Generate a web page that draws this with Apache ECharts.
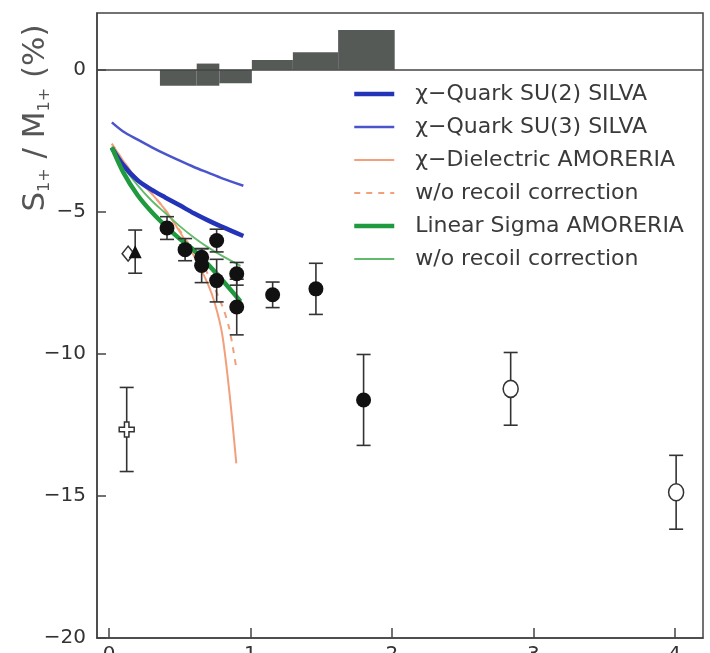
<!DOCTYPE html>
<html>
<head>
<meta charset="utf-8">
<script src="https://cdn.jsdelivr.net/npm/echarts@6/dist/echarts.min.js"></script>
<style>
  html, body { margin: 0; padding: 0; background: #fff; }
  #chart { width: 710px; height: 653px; }
</style>
</head>
<body>
<div id="chart"></div>
<script>
// Axis tick positions
const xTicks = [0, 1, 2, 3, 4];
const yTicks = [-20, -15, -10, -5, 0];

// Histogram of differences (bin edges and bar extents)
const histStart = [0.36, 0.62, 0.78, 1.01, 1.30, 1.62];
const histEnd   = [0.62, 0.78, 1.01, 1.30, 1.62, 2.02];
const histLow   = [-0.56, -0.56, -0.47, 0, 0, 0];
const histHigh  = [0, 0.22, 0, 0.35, 0.62, 1.40];

// Model curves [x, y]
const su2Curve = [[0.02,-2.75],[0.1,-3.35],[0.2,-3.88],[0.3,-4.22],[0.4,-4.5],[0.5,-4.77],[0.6,-5.05],[0.7,-5.3],[0.8,-5.53],[0.95,-5.85]];
const su3Curve = [[0.02,-1.85],[0.1,-2.17],[0.2,-2.45],[0.3,-2.72],[0.4,-2.97],[0.5,-3.2],[0.6,-3.42],[0.7,-3.62],[0.8,-3.82],[0.95,-4.08]];
const dielCurve = [[0.02,-2.6],[0.1,-3.2],[0.2,-3.85],[0.3,-4.35],[0.4,-4.95],[0.5,-5.7],[0.6,-6.55],[0.7,-7.55],[0.75,-8.25],[0.8,-9.3],[0.85,-11.3],[0.9,-13.85]];
const dielNoRecoil = [[0.02,-2.6],[0.1,-3.2],[0.2,-3.85],[0.3,-4.35],[0.4,-4.95],[0.5,-5.65],[0.6,-6.4],[0.7,-7.2],[0.8,-8.3],[0.85,-9.1],[0.9,-10.5]];
const sigmaCurve = [[0.02,-2.73],[0.1,-3.6],[0.2,-4.4],[0.3,-5.0],[0.4,-5.5],[0.5,-5.95],[0.6,-6.35],[0.7,-6.85],[0.8,-7.4],[0.93,-8.15]];
const sigmaNoRecoil = [[0.02,-2.7],[0.1,-3.4],[0.2,-4.05],[0.3,-4.6],[0.4,-5.05],[0.5,-5.5],[0.6,-5.9],[0.7,-6.25],[0.8,-6.55],[0.93,-6.9]];

// Measurements
const filledX   = [0.41, 0.538, 0.655, 0.655, 0.761, 0.761, 0.903, 0.903, 1.157, 1.463, 1.80];
const filledY   = [-5.57, -6.33, -6.60, -6.89, -6.01, -7.42, -7.18, -8.35, -7.92, -7.71, -11.62];
const filledErr = [0.40, 0.39, 0.30, 0.60, 0.40, 0.75, 0.40, 0.98, 0.45, 0.90, 1.60];

const openX   = [2.84, 4.01];
const openY   = [-11.23, -14.87];
const openErr = [1.28, 1.30];

const crossX = [0.125], crossY = [-12.66], crossErr = [1.48];
const triX = [0.185], triY = [-6.40], triErr = [0.76];
const diamondX = [0.135], diamondY = [-6.47];

const legendNames = [
  'χ−Quark SU(2) SILVA',
  'χ−Quark SU(3) SILVA',
  'χ−Dielectric AMORERIA',
  'w/o recoil correction',
  'Linear Sigma AMORERIA',
  'w/o recoil correction '
];

const ink = '#333';
const zip = (xs, ys) => xs.map((x, i) => [x, ys[i]]);
const zip3 = (xs, ys, es) => xs.map((x, i) => [x, ys[i], es[i]]);

function errorBar(params, api) {
  const x = api.value(0), y = api.value(1), e = api.value(2);
  const top = api.coord([x, y + e]);
  const bot = api.coord([x, y - e]);
  const w = 7;
  const style = { stroke: ink, lineWidth: 1.6 };
  return {
    type: 'group',
    children: [
      { type: 'line', shape: { x1: top[0], y1: top[1], x2: bot[0], y2: bot[1] }, style },
      { type: 'line', shape: { x1: top[0] - w, y1: top[1], x2: top[0] + w, y2: top[1] }, style },
      { type: 'line', shape: { x1: bot[0] - w, y1: bot[1], x2: bot[0] + w, y2: bot[1] }, style }
    ]
  };
}

function histBar(params, api) {
  const a = api.coord([api.value(0), api.value(3)]);
  const b = api.coord([api.value(1), api.value(2)]);
  return {
    type: 'rect',
    shape: { x: a[0], y: a[1], width: b[0] - a[0], height: b[1] - a[1] },
    style: { fill: '#565a57' }
  };
}

function curve(name, data, color, width, dashed) {
  return {
    name, type: 'line', data, symbol: 'none', smooth: 0.3,
    lineStyle: { color, width, type: dashed ? [6, 6] : 'solid' },
    itemStyle: { color },
    z: 3
  };
}

const crossPath = 'path://M3.5,0 H6.5 V3.5 H10 V6.5 H6.5 V10 H3.5 V6.5 H0 V3.5 H3.5 Z';

const chart = echarts.init(document.getElementById('chart'), null, { renderer: 'canvas' });
chart.setOption({
  animation: false,
  backgroundColor: '#fff',
  grid: {
    left: 97, right: 7, top: 13, bottom: 15,
    show: true, borderColor: '#444', borderWidth: 1.5,
    containLabel: false, outerBoundsMode: 'none'
  },
  xAxis: {
    type: 'value', min: -0.085, max: 4.2,
    axisLine: { show: true, onZero: false, lineStyle: { color: '#444', width: 1.5 } },
    axisTick: { show: true, inside: true, length: 10, customValues: xTicks, lineStyle: { color: '#444', width: 1.5 } },
    axisLabel: { customValues: xTicks, fontSize: 20, color: ink, margin: 7, fontFamily: 'DejaVu Sans' },
    splitLine: { show: false }
  },
  yAxis: {
    type: 'value', min: -20, max: 2,
    axisLine: { show: true, onZero: false, lineStyle: { color: '#444', width: 1.5 } },
    axisTick: { show: true, inside: true, length: 9, customValues: yTicks, lineStyle: { color: '#444', width: 1.5 } },
    axisLabel: {
      customValues: yTicks, fontSize: 20, color: ink, margin: 11, fontFamily: 'DejaVu Sans',
      formatter: v => String(v).replace('-', '−')
    },
    splitLine: { show: false }
  },
  legend: {
    data: legendNames,
    orient: 'vertical',
    left: 352, top: 83, padding: 0,
    itemWidth: 40, itemHeight: 14, itemGap: 11,
    itemStyle: { opacity: 0 },
    lineStyle: { width: 'inherit' },
    textStyle: { fontSize: 22, lineHeight: 20, color: '#3a3a3a', fontFamily: 'DejaVu Sans', padding: [0, 0, 0, 16] },
    selectedMode: false
  },
  graphic: [{
    type: 'text',
    x: 36, y: 118,
    rotation: Math.PI / 2,
    style: {
      text: '{m|S}{s|1+}{m| / M}{s|1+}{m| (%)}',
      align: 'center', verticalAlign: 'middle',
      fill: '#555',
      rich: {
        m: { fontSize: 31, lineHeight: 34, fontFamily: 'DejaVu Sans', fill: '#555', verticalAlign: 'middle' },
        s: { fontSize: 16, lineHeight: 16, fontFamily: 'DejaVu Sans', fill: '#555', verticalAlign: 'bottom', padding: [10, 0, 0, 0] }
      }
    }
  }],
  series: [
    {
      type: 'custom', renderItem: histBar, silent: true, z: 1,
      data: histStart.map((s, i) => [s, histEnd[i], histLow[i], histHigh[i]]),
      markLine: {
        silent: true, symbol: 'none', label: { show: false },
        lineStyle: { color: '#444', width: 1.5, type: 'solid' },
        data: [{ yAxis: 0 }]
      }
    },
    curve(legendNames[2], dielCurve, '#f2a07c', 2, false),
    curve(legendNames[3], dielNoRecoil, '#f2a07c', 2, true),
    curve(legendNames[5], sigmaNoRecoil, '#62bb6a', 1.8, false),
    curve(legendNames[1], su3Curve, '#4a55cc', 2.5, false),
    curve(legendNames[0], su2Curve, '#2434b8', 4.5, false),
    curve(legendNames[4], sigmaCurve, '#1f9a3e', 4.5, false),
    { type: 'custom', renderItem: errorBar, silent: true, z: 4, data: zip3(filledX, filledY, filledErr) },
    { type: 'custom', renderItem: errorBar, silent: true, z: 4, data: zip3(openX, openY, openErr) },
    { type: 'custom', renderItem: errorBar, silent: true, z: 4, data: zip3(crossX, crossY, crossErr) },
    { type: 'custom', renderItem: errorBar, silent: true, z: 4, data: zip3(triX, triY, triErr) },
    { type: 'scatter', data: zip(diamondX, diamondY), symbol: 'diamond', symbolSize: [12, 15], z: 5,
      itemStyle: { color: '#fff', borderColor: ink, borderWidth: 1.5, opacity: 1 } },
    { type: 'scatter', data: zip(triX, triY), symbol: 'triangle', symbolSize: 13, z: 6,
      itemStyle: { color: '#111', opacity: 1 } },
    { type: 'scatter', data: zip(filledX, filledY), symbol: 'circle', symbolSize: 15, z: 6,
      itemStyle: { color: '#111', opacity: 1 } },
    { type: 'scatter', data: zip(openX, openY), symbol: 'circle', symbolSize: [15, 17], z: 6,
      itemStyle: { color: '#fff', borderColor: ink, borderWidth: 1.6, opacity: 1 } },
    { type: 'scatter', data: zip(crossX, crossY), symbol: crossPath, symbolSize: 15, z: 6,
      itemStyle: { color: '#fff', borderColor: ink, borderWidth: 1.5, opacity: 1 } }
  ]
});
</script>
</body>
</html>
